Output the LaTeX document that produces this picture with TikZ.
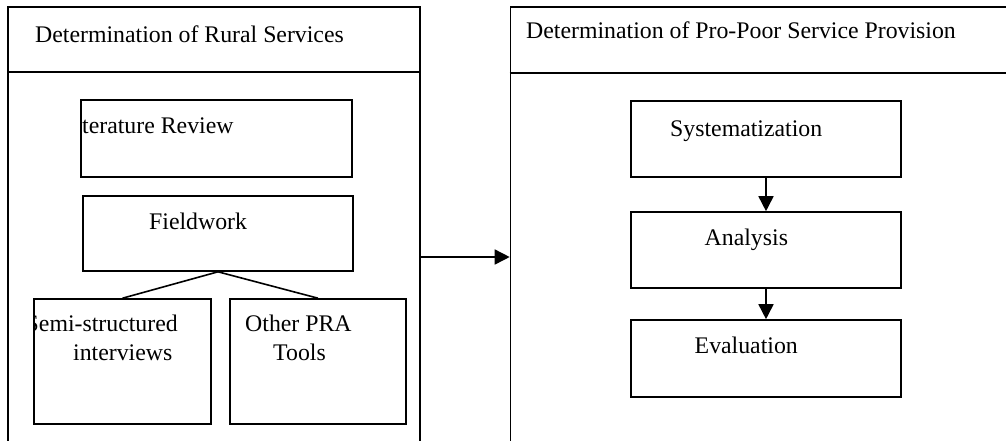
\documentclass[tikz,border=0pt]{standalone}
\usepackage{fontspec}
\setmainfont{Liberation Serif}
\usetikzlibrary{arrows.meta}
\begin{document}
\begin{tikzpicture}[x=1pt,y=-1pt,
  boxr/.style={draw=black, line width=1.6pt, rectangle, inner sep=0pt, fill=none},
  lbl/.style={anchor=base west, inner sep=0pt, font=\fontsize{23.8pt}{29pt}\selectfont},
  link/.style={line width=1.6pt},
  arr/.style={line width=1.6pt, -{Triangle[length=15pt,width=15pt]}}]
\useasboundingbox (0,0) rectangle (1006,440);
\fill[white] (0,0) rectangle (1006,440);
\begin{scope}
\clip (0,0) rectangle (1006,440);
% panels
\node[boxr, minimum width=412pt, minimum height=473pt] (panelL) at (214,243.5) {};
\node[boxr, minimum width=540pt, minimum height=473pt] (panelR) at (780.5,243.5) {};
\coordinate (divL) at (0,72);
\coordinate (divR) at (0,73);
\draw[link] (panelL.west |- divL) -- (panelL.east |- divL);
\draw[link] (panelR.west |- divR) -- (panelR.east |- divR);
\node[lbl] (hL) at (35,42) {Determination of Rural Services};
\node[lbl] (hR) at (526,38) {Determination of Pro-Poor Service Provision};
% left boxes
\node[boxr, minimum width=271pt, minimum height=77pt] (lit) at (216.5,138.5) {};
\node[lbl] (litT) at (82,133) {terature Review};
\node[boxr, minimum width=270pt, minimum height=75pt] (field) at (218,233.5) {};
\node[lbl] (fieldT) at (149,229) {Fieldwork};
\node[boxr, minimum width=177pt, minimum height=125pt] (semi) at (122.5,361.5) {};
\node[boxr, minimum width=176pt, minimum height=125pt] (other) at (318,361.5) {};
\begin{scope}
\clip (semi.north west) rectangle (semi.south east);
\node[lbl] (semiT) at (25.5,331) {Semi-structured};
\end{scope}
\node[lbl] (semiT2) at (73,360) {interviews};
\node[lbl] (otherT) at (245,331) {Other PRA};
\node[lbl] (otherT2) at (273,360) {Tools};
\draw[link] (field.south) -- (semi.north);
\draw[link] (field.south) -- (other.north);
% right boxes
\node[boxr, minimum width=270pt, minimum height=76pt] (sys) at (766,139) {};
\node[lbl] (sysT) at (670,136) {Systematization};
\node[boxr, minimum width=270pt, minimum height=76pt] (ana) at (766,250) {};
\node[lbl] (anaT) at (704.5,245) {Analysis};
\node[boxr, minimum width=270pt, minimum height=77pt] (eva) at (766,358.5) {};
\node[lbl] (evaT) at (694.5,353) {Evaluation};
\draw[arr] (sys.south) -- (ana.north);
\draw[arr] (ana.south) -- (eva.north);
% link between panels
\coordinate (ay) at (0,257);
\draw[arr] (panelL.east |- ay) -- (panelR.west |- ay);
\end{scope}
\end{tikzpicture}
\end{document}
